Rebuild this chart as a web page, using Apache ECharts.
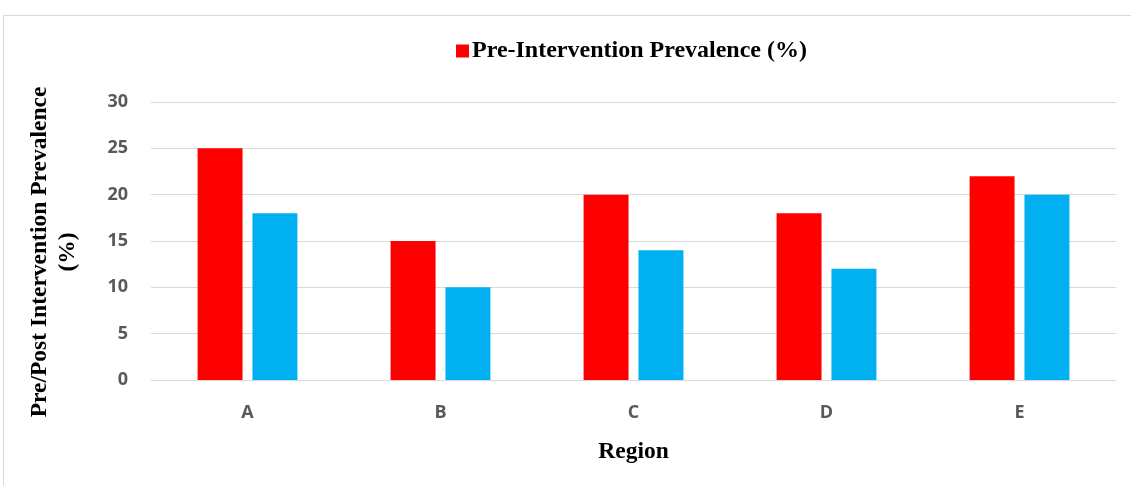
<!DOCTYPE html>
<html>
<head>
<meta charset="utf-8">
<script src="https://cdn.jsdelivr.net/npm/echarts@6/dist/echarts.min.js"></script>
<style>html,body{margin:0;padding:0;background:#fff;}#c{width:1131px;height:486px;}</style>
</head>
<body>
<div id="c"></div>
<script>
const categories = ['A', 'B', 'C', 'D', 'E'];
const preValues = [25, 15, 20, 18, 22];
const postValues = [18, 10, 14, 12, 20];
const yTicks = { min: 0, max: 30, interval: 5 };

const chart = echarts.init(document.getElementById('c'));
chart.setOption({
  animation: false,
  backgroundColor: '#fff',
  graphic: [
    { type: 'rect', shape: { x: 3.5, y: 15.5, width: 1150, height: 520 }, style: { fill: 'none', stroke: '#d9d9d9', lineWidth: 1 } },
    { type: 'text', x: 54, y: 252, rotation: Math.PI / 2,
      style: { text: 'Pre/Post Intervention Prevalence\n(%)', font: 'bold 23.5px "Liberation Serif"', fill: '#000', align: 'center', verticalAlign: 'middle', lineHeight: 28 } }
  ],
  legend: {
    data: ['Pre-Intervention Prevalence (%)'],
    left: 451, top: 34,
    itemWidth: 13, itemHeight: 13, itemGap: 10,
    icon: 'rect',
    textStyle: { fontFamily: 'Liberation Serif', fontWeight: 'bold', fontSize: 24, color: '#000', padding: [0, 0, 0, -2] }
  },
  grid: { left: 151, right: 15, top: 102, bottom: 106 },
  xAxis: {
    type: 'category', data: categories,
    name: 'Region', nameLocation: 'middle', nameGap: 60,
    nameTextStyle: { fontFamily: 'Liberation Serif', fontWeight: 'bold', fontSize: 23.5, color: '#000' },
    axisLine: { lineStyle: { color: '#d9d9d9', width: 1 } },
    axisTick: { show: false },
    axisLabel: { margin: 24, fontFamily: 'Open Sans', fontWeight: 'bold', fontSize: 18, color: '#595959' }
  },
  yAxis: {
    type: 'value', min: yTicks.min, max: yTicks.max, interval: yTicks.interval,
    axisLine: { show: false }, axisTick: { show: false },
    splitLine: { lineStyle: { color: '#d9d9d9', width: 1 } },
    axisLabel: { margin: 23, fontFamily: 'Open Sans', fontWeight: 'bold', fontSize: 18, color: '#595959' }
  },
  series: [
    { name: 'Pre-Intervention Prevalence (%)', type: 'bar', data: preValues, itemStyle: { color: '#FF0000' }, barWidth: '23.3%', barGap: '22%' },
    { name: 'Post-Intervention Prevalence (%)', type: 'bar', data: postValues, itemStyle: { color: '#00B0F0' }, barWidth: '23.3%', barGap: '22%' }
  ]
});
</script>
</body>
</html>
